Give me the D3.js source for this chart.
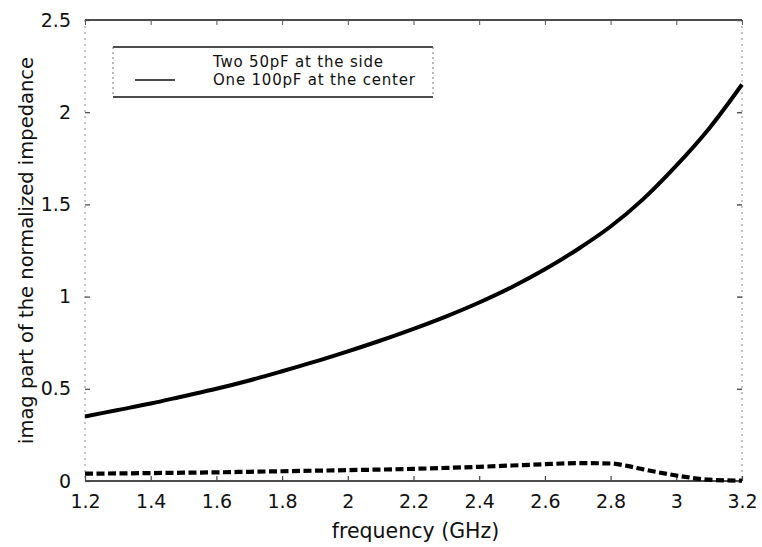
<!DOCTYPE html>
<html>
<head>
<meta charset="utf-8">
<script src="https://cdn.jsdelivr.net/npm/d3@7"></script>
<style>
  html, body { margin: 0; padding: 0; background: #fff; }
  svg { display: block; font-family: "DejaVu Sans", sans-serif; }
</style>
</head>
<body>
<svg id="chart" width="762" height="547"></svg>
<script>
// Frequency sweep (GHz) and imaginary part of normalized impedance
const freqCenter = [1.2, 1.3, 1.4, 1.5, 1.6, 1.7, 1.8, 1.9, 2.0, 2.1, 2.2, 2.3, 2.4, 2.5, 2.6, 2.7, 2.8, 2.9, 3.0, 3.1, 3.2];
const imagCenter = [0.35, 0.385, 0.42, 0.46, 0.50, 0.545, 0.595, 0.647, 0.703, 0.762, 0.825, 0.893, 0.968, 1.052, 1.148, 1.257, 1.38, 1.53, 1.71, 1.912, 2.15];

const freqSide = [1.2, 1.3, 1.4, 1.5, 1.6, 1.7, 1.8, 1.9, 2.0, 2.1, 2.2, 2.3, 2.4, 2.5, 2.6, 2.7, 2.8, 2.85, 2.9, 3.0, 3.1, 3.2];
const imagSide = [0.04, 0.041, 0.043, 0.045, 0.047, 0.05, 0.053, 0.056, 0.059, 0.062, 0.066, 0.071, 0.077, 0.084, 0.091, 0.097, 0.095, 0.082, 0.063, 0.03, 0.007, 0.002];

const xTicks = [1.2, 1.4, 1.6, 1.8, 2.0, 2.2, 2.4, 2.6, 2.8, 3.0, 3.2];
const yTicks = [0, 0.5, 1, 1.5, 2, 2.5];

const legendLabels = ["Two 50pF at the side", "One 100pF at the center"];

const W = 762, H = 547;
const margin = { top: 20, right: 20, bottom: 66, left: 85 };
const svg = d3.select("#chart");

const x = d3.scaleLinear().domain([1.2, 3.2]).range([margin.left, W - margin.right]);
const y = d3.scaleLinear().domain([0, 2.5]).range([H - margin.bottom, margin.top]);

const x0 = x.range()[0], x1 = x.range()[1];
const y0 = y.range()[0], y1 = y.range()[1];

// frame: solid top/bottom, faint dotted sides
const frame = svg.append("g");
frame.append("line").attr("x1", x0).attr("x2", x1).attr("y1", y1).attr("y2", y1)
  .attr("stroke", "#111").attr("stroke-width", 1.6);
frame.append("line").attr("x1", x0).attr("x2", x1).attr("y1", y0).attr("y2", y0)
  .attr("stroke", "#111").attr("stroke-width", 1.6);
[x0, x1].forEach(xx => {
  frame.append("line").attr("x1", xx).attr("x2", xx).attr("y1", y1).attr("y2", y0)
    .attr("stroke", "#888").attr("stroke-width", 1).attr("stroke-dasharray", "2,4");
});

// axes (ticks inward, labels outside)
const fmt = d => d3.format("")(+d.toFixed(1));
const xAxis = d3.axisBottom(x).tickValues(xTicks).tickSize(-5).tickPadding(13).tickFormat(fmt);
const gx = svg.append("g").attr("transform", `translate(0,${y0})`).call(xAxis);
gx.select(".domain").remove();
gx.selectAll(".tick line").attr("stroke", "#444").attr("stroke-width", 1.2);
gx.selectAll(".tick text").attr("font-size", 19).attr("fill", "#111")
  .attr("font-family", "DejaVu Sans, sans-serif").attr("dy", "0.75em");

const yAxis = d3.axisLeft(y).tickValues(yTicks).tickSize(-5).tickPadding(14).tickFormat(fmt);
const gy = svg.append("g").attr("transform", `translate(${x0},0)`).call(yAxis);
gy.select(".domain").remove();
gy.selectAll(".tick line").attr("stroke", "#444").attr("stroke-width", 1.2);
gy.selectAll(".tick text").attr("font-size", 19).attr("fill", "#111")
  .attr("font-family", "DejaVu Sans, sans-serif");

// mirrored ticks on top and right
const gt = svg.append("g").attr("transform", `translate(0,${y1})`)
  .call(d3.axisTop(x).tickValues(xTicks).tickSize(-5).tickFormat(""));
gt.select(".domain").remove();
gt.selectAll(".tick line").attr("stroke", "#555");
const gr = svg.append("g").attr("transform", `translate(${x1},0)`)
  .call(d3.axisRight(y).tickValues(yTicks).tickSize(-5).tickFormat(""));
gr.select(".domain").remove();
gr.selectAll(".tick line").attr("stroke", "#555").attr("stroke-width", 1.5);

// curves
const smooth = d3.line().x(d => x(d[0])).y(d => y(d[1])).curve(d3.curveCatmullRom);
const mono = d3.line().x(d => x(d[0])).y(d => y(d[1])).curve(d3.curveMonotoneX);

svg.append("path")
  .datum(d3.zip(freqCenter, imagCenter))
  .attr("d", smooth)
  .attr("fill", "none").attr("stroke", "#000").attr("stroke-width", 4)
  .attr("stroke-linejoin", "round");

svg.append("path")
  .datum(d3.zip(freqSide, imagSide))
  .attr("d", mono)
  .attr("fill", "none").attr("stroke", "#000").attr("stroke-width", 4.2)
  .attr("stroke-dasharray", "8,3.5");

// axis titles
svg.append("text")
  .attr("x", (x0 + x1) / 2 + 2).attr("y", 538)
  .attr("text-anchor", "middle").attr("font-size", 20.5).attr("fill", "#111")
  .text("frequency (GHz)");

svg.append("text")
  .attr("transform", `translate(33,${(y0 + y1) / 2}) rotate(-90)`)
  .attr("text-anchor", "middle").attr("font-size", 19.5).attr("fill", "#111")
  .text("imag part of the normalized impedance");

// legend
const lg = svg.append("g");
const lx0 = 113, lx1 = 433, ly0 = 47, ly1 = 97;
lg.append("line").attr("x1", lx0).attr("x2", lx1).attr("y1", ly0).attr("y2", ly0)
  .attr("stroke", "#111").attr("stroke-width", 1.3);
lg.append("line").attr("x1", lx0).attr("x2", lx1).attr("y1", ly1).attr("y2", ly1)
  .attr("stroke", "#111").attr("stroke-width", 1.3);
[lx0, lx1].forEach(xx => {
  lg.append("line").attr("x1", xx).attr("x2", xx).attr("y1", ly0).attr("y2", ly1)
    .attr("stroke", "#777").attr("stroke-width", 1).attr("stroke-dasharray", "2,3");
});
lg.selectAll("text.lab").data(legendLabels).enter().append("text")
  .attr("class", "lab")
  .attr("x", 213).attr("y", (d, i) => 67 + i * 18)
  .attr("font-size", 15).attr("letter-spacing", 0.8).attr("fill", "#111")
  .text(d => d);
lg.append("line").attr("x1", 135).attr("x2", 175).attr("y1", 80).attr("y2", 80)
  .attr("stroke", "#111").attr("stroke-width", 1.3);
</script>
</body>
</html>
